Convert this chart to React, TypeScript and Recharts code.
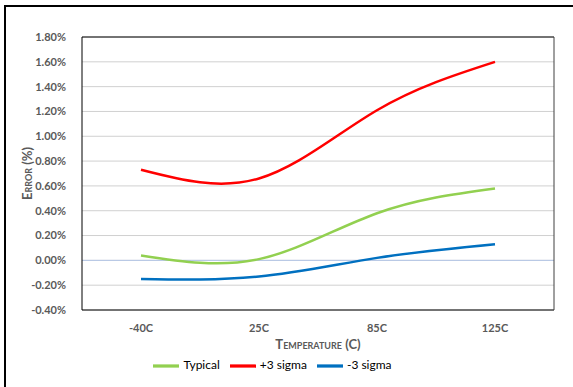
import { LineChart, Line, XAxis, YAxis, CartesianGrid, Legend, ReferenceLine } from 'recharts';

const temps = ['-40C', '25C', '85C', '125C'];
const typical = [0.04, 0.01, 0.38, 0.58];
const plus3 = [0.73, 0.66, 1.21, 1.60];
const minus3 = [-0.15, -0.13, 0.02, 0.13];
const yTicks = [-0.4, -0.2, 0, 0.2, 0.4, 0.6, 0.8, 1.0, 1.2, 1.4, 1.6, 1.8];
const seriesOrder = ['Typical', '+3 sigma', '-3 sigma'];

const data = temps.map((t, i) => ({
    temp: t,
    typical: typical[i],
    plus3: plus3[i],
    minus3: minus3[i],
}));

const font = 'Lato, "Liberation Sans", sans-serif';
const grey = '#595959';

export default function App() {
    return (
        <div style={{ position: 'fixed', left: 0, top: 0, width: 573, height: 387, background: '#fff' }}>
            <LineChart width={573} height={387} data={data} margin={{ top: 36, right: 18, bottom: 14, left: 0 }}>
                {/* outer frame of the exported picture */}
                <rect x={5} y={6} width={620} height={420} fill="none" stroke="#000" strokeWidth={2} />
                <CartesianGrid vertical={false} stroke="#d0d0d0" />
                <XAxis
                    dataKey="temp"
                    height={43}
                    padding={{ left: 59, right: 59 }}
                    tickLine={false}
                    axisLine={{ stroke: '#000' }}
                    tickMargin={8}
                    tick={{ fill: grey, fontSize: 11, fontWeight: 700, fontFamily: font }}
                    label={{
                        value: 'Temperature (C)',
                        position: 'insideBottom',
                        offset: 4,
                        style: { fill: grey, fontSize: 13, fontWeight: 700, fontFamily: font, fontVariant: 'small-caps' },
                    }}
                />
                <XAxis xAxisId="top" orientation="top" dataKey="temp" height={1} padding={{ left: 59, right: 59 }} tick={false} tickLine={false} axisLine={{ stroke: '#000' }} />
                <YAxis
                    width={82}
                    domain={[-0.4, 1.8]}
                    ticks={yTicks}
                    tickFormatter={(v: number) => v.toFixed(2) + '%'}
                    tickLine={false}
                    axisLine={{ stroke: '#000' }}
                    tickMargin={10}
                    tick={{ fill: grey, fontSize: 11, fontWeight: 700, fontFamily: font }}
                    label={{
                        value: 'Error (%)',
                        angle: -90,
                        position: 'insideLeft',
                        offset: 27,
                        style: { textAnchor: 'middle', fill: grey, fontSize: 13, fontWeight: 700, fontFamily: font, fontVariant: 'small-caps' },
                    }}
                />
                <YAxis yAxisId="right" orientation="right" width={1} domain={[-0.4, 1.8]} tick={false} tickLine={false} axisLine={{ stroke: '#404040' }} />
                <ReferenceLine y={0} stroke="#b4c7e7" strokeWidth={1} />
                <Legend
                    verticalAlign="bottom"
                    height={20}
                    iconType="plainline"
                    iconSize={26}
                    itemSorter={(item: any) => seriesOrder.indexOf(item.value)}
                    wrapperStyle={{ fontFamily: font, fontSize: 12, color: '#000' }}
                    formatter={(v: string) => <span style={{ color: '#000' }}>{v}</span>}
                />
                <Line name="Typical" dataKey="typical" type="natural" stroke="#92d050" strokeWidth={2.5} dot={false} isAnimationActive={false} />
                <Line name="+3 sigma" dataKey="plus3" type="natural" stroke="#ff0000" strokeWidth={2.5} dot={false} isAnimationActive={false} />
                <Line name="-3 sigma" dataKey="minus3" type="natural" stroke="#0070c0" strokeWidth={2.5} dot={false} isAnimationActive={false} />
            </LineChart>
        </div>
    );
}
